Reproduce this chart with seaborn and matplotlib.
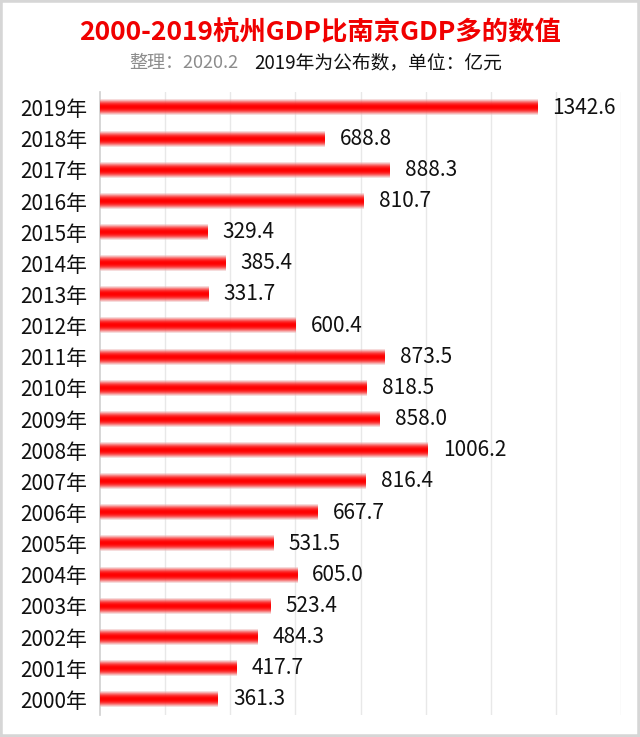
import numpy as np
import pandas as pd
import matplotlib
matplotlib.use("Agg")
import matplotlib.pyplot as plt
import seaborn as sns
from matplotlib.patches import Rectangle

# data, top to bottom as in the chart
years = ["2019年", "2018年", "2017年", "2016年", "2015年", "2014年", "2013年",
         "2012年", "2011年", "2010年", "2009年", "2008年", "2007年", "2006年",
         "2005年", "2004年", "2003年", "2002年", "2001年", "2000年"]
diff = [1342.6, 688.8, 888.3, 810.7, 329.4, 385.4, 331.7, 600.4, 873.5, 818.5,
        858.0, 1006.2, 816.4, 667.7, 531.5, 605.0, 523.4, 484.3, 417.7, 361.3]

df = pd.DataFrame({"year": years, "diff": diff})

sns.set_theme(style="white")
plt.rcParams['font.family'] = ['Noto Sans CJK SC', 'DejaVu Sans']

fig = plt.figure(figsize=(6.4, 7.37), dpi=100)
ax = fig.add_axes([100 / 640, 1 - 715 / 737, 521 / 640, 623 / 737])

sns.barplot(data=df, x="diff", y="year", orient="h", color="red", width=0.5, ax=ax)

# glossy gradient inside every bar
n = 64
t = np.abs(np.linspace(-1, 1, n))
core = np.array([1.0, 0.0, 0.0])
edge = np.array([0.93, 0.8, 0.8])
w = np.clip(t ** 2.0, 0, 1)[:, None]
rgb = core * (1 - w) + edge * w
alpha = (1 - 0.6 * t ** 3)[:, None]
grad = np.concatenate([rgb, alpha], axis=1)[:, None, :]

for p in ax.patches:
    x0, y0 = p.get_x(), p.get_y()
    pw, ph = p.get_width(), p.get_height()
    ax.imshow(grad, extent=[x0, x0 + pw, y0 + ph, y0], aspect="auto",
              interpolation="bilinear", zorder=3)
    p.set_visible(False)

for i, v in enumerate(diff):
    ax.annotate(f"{v:.1f}", xy=(v, i), xytext=(11, 0), textcoords="offset points",
                va="center", ha="left", fontsize=15, color="#111111")

ax.set_xlim(0, 1600)
ax.set_ylim(19.5, -0.5)
ax.set_xticks(np.arange(200, 1601, 200))
ax.set_xticklabels([])
ax.grid(axis="x", color="#e8e8e8", linewidth=1)
ax.set_axisbelow(True)
ax.set_xlabel("")
ax.set_ylabel("")
ax.tick_params(axis="y", length=0, pad=9, labelsize=15, labelcolor="#111111")
ax.tick_params(axis="x", length=0)
for s in ["top", "right", "bottom"]:
    ax.spines[s].set_visible(False)
ax.spines["left"].set_color("#cfcfcf")
ax.spines["left"].set_linewidth(1.2)

fig.text(0.5, 1 - 32 / 737, "2000-2019杭州GDP比南京GDP多的数值", ha="center", va="center",
         fontsize=19, fontweight="bold", color="#f00000")
fig.text(238 / 640, 1 - 63 / 737, "整理：2020.2", ha="right", va="center",
         fontsize=13, color="#8c8c8c")
fig.text(254 / 640, 1 - 63 / 737, "2019年为公布数，单位：亿元", ha="left", va="center",
         fontsize=13.5, color="#111111")

fig.patches.append(Rectangle((0, 0), 1, 1, transform=fig.transFigure, fill=False,
                             edgecolor="#d6d6d6", linewidth=4))

fig.savefig("out.png", dpi=100)
